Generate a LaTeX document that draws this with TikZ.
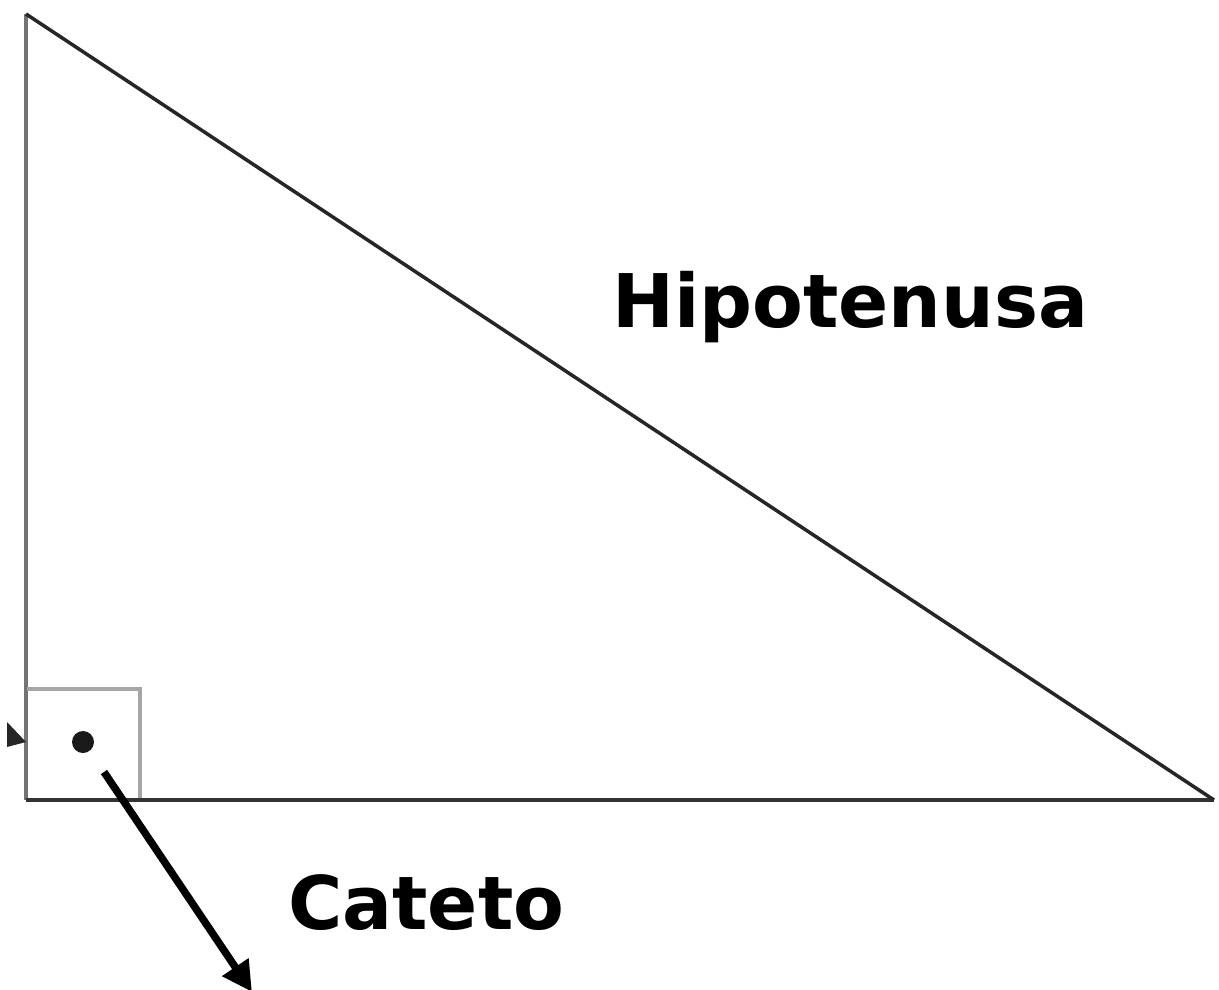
\documentclass[tikz,border=0pt]{standalone}
\usepackage{fontspec}
\setmainfont{DejaVu Sans}
\usetikzlibrary{arrows.meta}
\begin{document}
\begin{tikzpicture}[x=1pt,y=-1pt,
  leg/.style={line width=3.5pt},
  label/.style={font=\fontsize{74}{80}\selectfont\bfseries, inner sep=0pt, anchor=base west},
  pointer/.style={line width=7.5pt, -{Triangle[width=30pt,length=30pt]}}]
\useasboundingbox (0,0) rectangle (1219,989);
\fill[white] (0,0) rectangle (1219,989);
\coordinate (A) at (26,14);
\coordinate (B) at (26,800);
\coordinate (C) at (1214,800);
\draw[leg, color=black!55] (A) -- (B);
\draw[leg, line width=4.5pt, color=black!80] (B) -- (C);
\draw[leg, color=black!85] (A) -- (C);
% right angle mark
\draw[line width=3.5pt, color=black!35] (27,689) -- (140,689) -- (140,798);
\fill[black!90] (83,742) circle (11);
% fragment at left edge
\fill[black!85] (7,722) -- (26,742) -- (7,747) -- cycle;
\node[label] (hip) at (612,327) {Hipotenusa};
\node[label] (cat) at (288,929) {Cateto};
\coordinate (p0) at (104,772);
\coordinate (p1) at (252,992);
\draw[pointer] (p0) -- (p1);
\end{tikzpicture}
\end{document}
